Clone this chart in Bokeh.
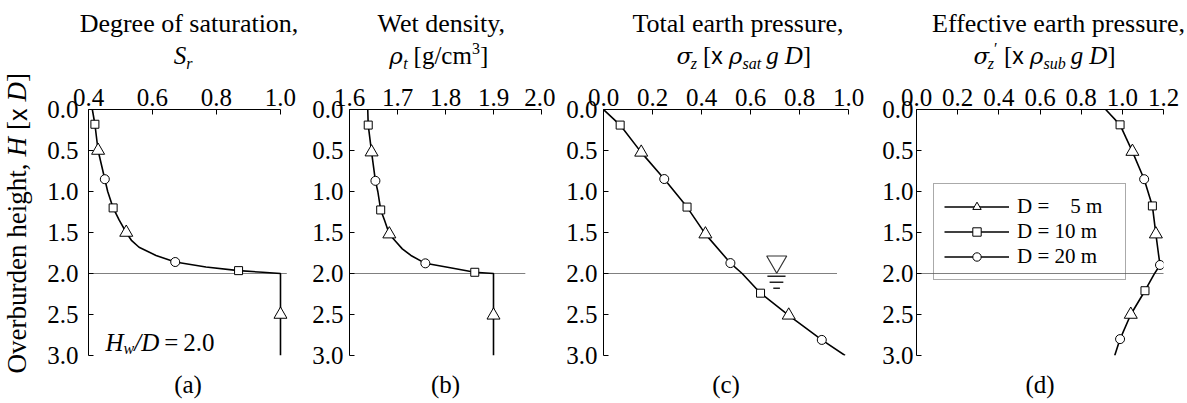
import math
from bokeh.plotting import figure
from bokeh.layouts import row, column
from bokeh.models import (Range1d, FixedTicker, PrintfTickFormatter, Label,
                          Legend, LegendItem)
from bokeh.embed import file_html
from bokeh.resources import INLINE

# ---------------- data ----------------
# overburden height H [x D] (0 at surface, positive downward)
H_ticks = [0.0, 0.5, 1.0, 1.5, 2.0, 2.5, 3.0]
H_water = 2.0

# (a) degree of saturation
a_H = [0.0, 0.18, 0.5, 0.85, 1.0, 1.2, 1.35, 1.5, 1.6, 1.68, 1.78, 1.86, 1.92, 1.965, 1.985, 2.0, 3.0]
a_Sr = [0.412, 0.42, 0.43, 0.451, 0.46, 0.477, 0.496, 0.518, 0.535, 0.558, 0.611, 0.671, 0.767, 0.869, 0.944, 1.0, 1.0]
a_tri_H, a_tri_x = [0.5, 1.5, 2.5], [0.43, 0.518, 1.0]
a_sq_H, a_sq_x = [0.18, 1.2, 1.965], [0.42, 0.477, 0.869]
a_ci_H, a_ci_x = [0.85, 1.86], [0.451, 0.671]
a_ticks = [0.4, 0.6, 0.8, 1.0]

# (b) wet density
b_H = [0.0, 0.19, 0.52, 0.87, 1.0, 1.225, 1.35, 1.52, 1.6, 1.7, 1.78, 1.876, 1.93, 1.985, 2.0, 3.0]
b_rho = [1.638, 1.639, 1.646, 1.654, 1.659, 1.665, 1.673, 1.683, 1.695, 1.71, 1.728, 1.758, 1.81, 1.861, 1.90, 1.90]
b_tri_H, b_tri_x = [0.52, 1.52, 2.51], [1.646, 1.683, 1.90]
b_sq_H, b_sq_x = [0.19, 1.225, 1.985], [1.639, 1.665, 1.861]
b_ci_H, b_ci_x = [0.87, 1.876], [1.654, 1.758]
b_ticks = [1.6, 1.7, 1.8, 1.9, 2.0]

# (c) total earth pressure
c_H = [0.0, 0.19, 0.523, 0.848, 1.19, 1.52, 1.873, 2.0, 2.24, 2.51, 2.81, 3.0]
c_sig = [0.0, 0.068, 0.154, 0.248, 0.341, 0.416, 0.518, 0.566, 0.641, 0.756, 0.891, 0.986]
c_tri_H, c_tri_x = [0.523, 1.52, 2.51], [0.154, 0.416, 0.756]
c_sq_H, c_sq_x = [0.19, 1.19, 2.24], [0.068, 0.341, 0.641]
c_ci_H, c_ci_x = [0.848, 1.873, 2.81], [0.248, 0.518, 0.891]
c_ticks = [0.0, 0.2, 0.4, 0.6, 0.8, 1.0]
# water-table symbol in (c)
wt_x, wt_H = [0.707], [1.857]
wt_bar_H = [2.034, 2.107, 2.18]
wt_bar_x0 = [0.669, 0.678, 0.693]
wt_bar_x1 = [0.743, 0.734, 0.720]

# (d) effective earth pressure
d_H = [0.0, 0.187, 0.34, 0.513, 0.85, 1.176, 1.52, 1.75, 1.896, 2.01, 2.21, 2.5, 2.8, 3.0]
d_sig = [0.919, 0.989, 1.017, 1.049, 1.106, 1.146, 1.163, 1.175, 1.183, 1.154, 1.11, 1.041, 0.989, 0.963]
d_tri_H, d_tri_x = [0.513, 1.52, 2.5], [1.049, 1.163, 1.041]
d_sq_H, d_sq_x = [0.187, 1.176, 2.21], [0.989, 1.146, 1.11]
d_ci_H, d_ci_x = [0.85, 1.896, 2.8], [1.106, 1.183, 0.989]
d_ticks = [0.0, 0.2, 0.4, 0.6, 0.8, 1.0, 1.2]

# extent of the dotted water-table line in each panel
dot_a = [0.4, 1.02]
dot_b = [1.6, 1.967]
dot_c = [0.0, 0.955]
dot_d = [0.0, 1.2]

series_labels = ["D =\u00a0\u2007\u00a05 m", "D = 10 m", "D = 20 m"]
panel_tags = ["(a)", "(b)", "(c)", "(d)"]
titles_1 = ["Degree of saturation,", "Wet density,", "Total earth pressure,",
            "Effective earth pressure,"]

# ---------------- layout constants (pixels) ----------------
SERIF = "Liberation Serif"
SANS = "Liberation Sans"
GREEK = "DejaVu Serif"
LEFT_W = 35          # strip holding the vertical axis title
TOP_H = 72           # strip holding the two-line panel titles
FRAME_H = 246
PANEL_TOP, PANEL_BOT = 37, 15
BOT_H = 403 - TOP_H - PANEL_TOP - FRAME_H - PANEL_BOT   # strip holding (a)...(d)
TICK_FS = "25px"
COMP = 0.3           # baseline correction (fraction of font size)
# per panel: (border left, frame width, border right)
geo = [(53, 199, 18), (44, 192, 14), (48, 245, 22), (46, 247, 24)]
frame_left = []
_x = LEFT_W
for bl, fw, br in geo:
    frame_left.append(_x + bl)
    _x += bl + fw + br
TOTAL_W = _x
frame_px = [(fl, fl + fw) for fl, (_, fw, _) in zip(frame_left, geo)]

REG = {' ': 250, '[': 333, ']': 333, '/': 278, '=': 564, '.': 250, ',': 250,
       '(': 333, ')': 333, 'g': 500, 'c': 444, 'm': 778, 'ρ': 600, 'σ': 620,
       '′': 250, 'x': 500, 'O': 722, 'v': 500, 'e': 444, 'r': 333, 'b': 500,
       'u': 500, 'd': 500, 'n': 500, 'h': 500, 'i': 278, 't': 278}
ITA = {'S': 500, 'r': 389, 't': 278, 'z': 389, 's': 389, 'a': 500, 'u': 500,
       'b': 500, 'g': 500, 'D': 722, 'H': 722, 'w': 667, '/': 278, ' ': 250,
       'ρ': 600, 'σ': 620}


def tw(txt, size, style):
    tab = ITA if style == "italic" else REG
    return sum(tab.get(ch, 500) for ch in txt) / 1000.0 * size


def run_width(pieces):
    return sum(pc[1] if pc[0] is None else tw(pc[0], pc[1], pc[2]) for pc in pieces)


def pieces_label(p, x, y, xo, yo, pieces, vertical=False):
    """Run of styled text pieces: (text, size, style, family, shift) or (None, gap_px)."""
    cur = 0.0
    for pc in pieces:
        if pc[0] is None:
            cur += pc[1]
            continue
        txt, size, style, family, shift = pc
        up = shift + COMP * size
        if vertical:
            lab = Label(x=x, y=y, x_offset=xo - up, y_offset=yo + cur, angle=math.pi / 2)
        else:
            lab = Label(x=x, y=y, x_offset=xo + cur, y_offset=yo + up)
        lab.text = txt
        lab.text_font = family
        lab.text_font_size = f"{size}px"
        lab.text_font_style = style
        lab.text_align = "left"
        lab.text_baseline = "alphabetic"
        lab.text_color = "black"
        p.add_layout(lab)
        cur += tw(txt, size, style)


def text_canvas(w, h):
    p = figure(width=w, height=h, x_range=Range1d(0, w), y_range=Range1d(h, 0),
               min_border=0, toolbar_location=None, output_backend="svg",
               x_axis_location=None, y_axis_location=None, outline_line_color=None,
               background_fill_color="white", border_fill_color="white")
    p.grid.visible = False
    return p


def make_panel(i, xr, ticks, ystand, bounds=None):
    left, frame_w, right = geo[i]
    p = figure(frame_width=frame_w, frame_height=FRAME_H,
               width=left + frame_w + right, height=PANEL_TOP + FRAME_H + PANEL_BOT,
               x_range=Range1d(*xr), y_range=Range1d(3.0, 0.0),
               x_axis_location="above", output_backend="svg", toolbar_location=None,
               min_border_left=left, min_border_right=right,
               min_border_top=PANEL_TOP, min_border_bottom=PANEL_BOT,
               background_fill_color="white", border_fill_color="white",
               outline_line_color=None)
    p.grid.visible = False
    xa = p.xaxis[0]
    xa.ticker = FixedTicker(ticks=ticks)
    xa.formatter = PrintfTickFormatter(format="%.1f")
    if bounds is not None:
        xa.bounds = bounds
    ya = p.yaxis[0]
    ya.ticker = FixedTicker(ticks=H_ticks)
    ya.formatter = PrintfTickFormatter(format="%.1f")
    for ax, st in ((xa, 4), (ya, ystand)):
        ax.major_tick_in = 5
        ax.major_tick_out = 0
        ax.minor_tick_in = 0
        ax.minor_tick_out = 0
        ax.axis_line_color = "black"
        ax.axis_line_width = 1
        ax.major_tick_line_color = "black"
        ax.major_label_text_font = SERIF
        ax.major_label_text_font_size = TICK_FS
        ax.major_label_text_color = "black"
        ax.major_label_standoff = st
    return p


def draw_series(p, H, X, tri, sq, ci, dot):
    p.line(dot, [H_water, H_water], line_color="black", line_width=1, line_dash="1 1")
    ln = p.line(X, H, line_color="black", line_width=1.6)
    rt = p.scatter(tri[1], tri[0], marker="triangle", size=13, fill_color="white",
                   line_color="black", line_width=1)
    rs = p.scatter(sq[1], sq[0], marker="square", size=8, fill_color="white",
                   line_color="black", line_width=1)
    rc = p.scatter(ci[1], ci[0], marker="circle", size=9, fill_color="white",
                   line_color="black", line_width=1)
    return ln, rt, rs, rc


M, S, T1, G = 25, 16, 26, 23   # main, sub/sup, first title line, Greek sizes

# ---------------- panels ----------------
pa = make_panel(0, (0.4, 1.0219), a_ticks, 10, bounds=(0.4, 1.0))
draw_series(pa, a_H, a_Sr, (a_tri_H, a_tri_x), (a_sq_H, a_sq_x), (a_ci_H, a_ci_x), dot_a)
pieces_label(pa, 0.4, 3.0, 17, 6,
             [("H", M, "italic", SERIF, 0), ("w", S, "italic", SERIF, -4),
              ("/D", M, "italic", SERIF, 0), (None, 5), ("=", M, "normal", SERIF, 0),
              (None, 5), ("2.0", M, "normal", SERIF, 0)])

pb = make_panel(1, (1.6, 2.0), b_ticks, 6)
draw_series(pb, b_H, b_rho, (b_tri_H, b_tri_x), (b_sq_H, b_sq_x), (b_ci_H, b_ci_x), dot_b)

pc = make_panel(2, (0.0, 1.0), c_ticks, 6)
draw_series(pc, c_H, c_sig, (c_tri_H, c_tri_x), (c_sq_H, c_sq_x), (c_ci_H, c_ci_x), dot_c)
pc.scatter(wt_x, wt_H, marker="inverted_triangle", size=20, fill_color="white",
           line_color="#333333", line_width=1.2)
pc.segment(wt_bar_x0, wt_bar_H, wt_bar_x1, wt_bar_H, line_color="#222222", line_width=1.6)

pd_ = make_panel(3, (0.0, 1.2), d_ticks, 3)
ln, rt, rs, rc = draw_series(pd_, d_H, d_sig, (d_tri_H, d_tri_x), (d_sq_H, d_sq_x),
                             (d_ci_H, d_ci_x), dot_d)
legend = Legend(items=[LegendItem(label=series_labels[0], renderers=[ln, rt]),
                       LegendItem(label=series_labels[1], renderers=[ln, rs]),
                       LegendItem(label=series_labels[2], renderers=[ln, rc])],
                location=(17, 75), glyph_width=65, glyph_height=21, label_height=21,
                label_width=98, label_standoff=8, spacing=0, padding=10, margin=0,
                border_line_color="#555555", border_line_width=1.5,
                background_fill_alpha=0.0, label_text_font=SERIF,
                label_text_font_size="21px", label_text_color="black")
pd_.add_layout(legend)

# ---------------- title strip ----------------
top = text_canvas(TOTAL_W - LEFT_W, TOP_H)
title1_centre = [188.5, 440.8, 737.5, 1058.0]
title2_centre = [182.5, 438.3, 743.3, 1044.0]
sig_pieces = lambda sub, prime: (
    [("σ", G, "italic", GREEK, 0), ("z", S, "italic", SERIF, -6)]
    + ([("′", S, "normal", SERIF, 9)] if prime else [])
    + [(None, 6), ("[", M, "normal", SERIF, 0), ("x", 23, "normal", SANS, 0), (None, 6),
       ("ρ", G, "italic", GREEK, 0), (sub, S, "italic", SERIF, -6), (None, 5),
       ("g", M, "italic", SERIF, 0), (None, 6), ("D", M, "italic", SERIF, 0),
       ("]", M, "normal", SERIF, 0)])
line2 = [
    [("S", M, "italic", SERIF, 0), ("r", S, "italic", SERIF, -6)],
    [("ρ", G, "italic", GREEK, 0), ("t", S, "italic", SERIF, -6), (None, 6),
     ("[g/cm", M, "normal", SERIF, 0), ("3", S, "normal", SERIF, 9), ("]", M, "normal", SERIF, 0)],
    sig_pieces("sat", False),
    sig_pieces("sub", True),
]
for i in range(4):
    top.add_layout(Label(x=title1_centre[i] - LEFT_W, y=31, y_offset=COMP * T1,
                         text=titles_1[i], text_font=SERIF,
                         text_font_size=f"{T1}px", text_align="center",
                         text_baseline="alphabetic", text_color="black"))
    start = title2_centre[i] - run_width(line2[i]) / 2 - LEFT_W
    pieces_label(top, start, 62, 0, 0, line2[i])

# ---------------- bottom strip ----------------
bot = text_canvas(TOTAL_W - LEFT_W, BOT_H)
tag_base = 391 - (TOP_H + PANEL_TOP + FRAME_H + PANEL_BOT)
for i in range(4):
    fl, fr = frame_px[i]
    bot.add_layout(Label(x=(fl + fr) / 2 - LEFT_W, y=tag_base, y_offset=COMP * M,
                         text=panel_tags[i], text_font=SERIF,
                         text_font_size=f"{M}px", text_align="center",
                         text_baseline="alphabetic", text_color="black"))

# ---------------- vertical axis title strip ----------------
lft = text_canvas(LEFT_W, 403)
pieces_label(lft, 25, 373, 0, 0,
             [("Overburden height,", 27, "normal", SERIF, 0), (None, 7),
              ("H", 27, "italic", SERIF, 0), (None, 7), ("[", 27, "normal", SERIF, 0),
              ("x", 25, "normal", SANS, 0), (None, 7), ("D", 27, "italic", SERIF, 0),
              ("]", 27, "normal", SERIF, 0)], vertical=True)

layout = row(lft, column(top, row(pa, pb, pc, pd_, spacing=0), bot, spacing=0), spacing=0)
open("out.html", "w").write(file_html(layout, INLINE))
